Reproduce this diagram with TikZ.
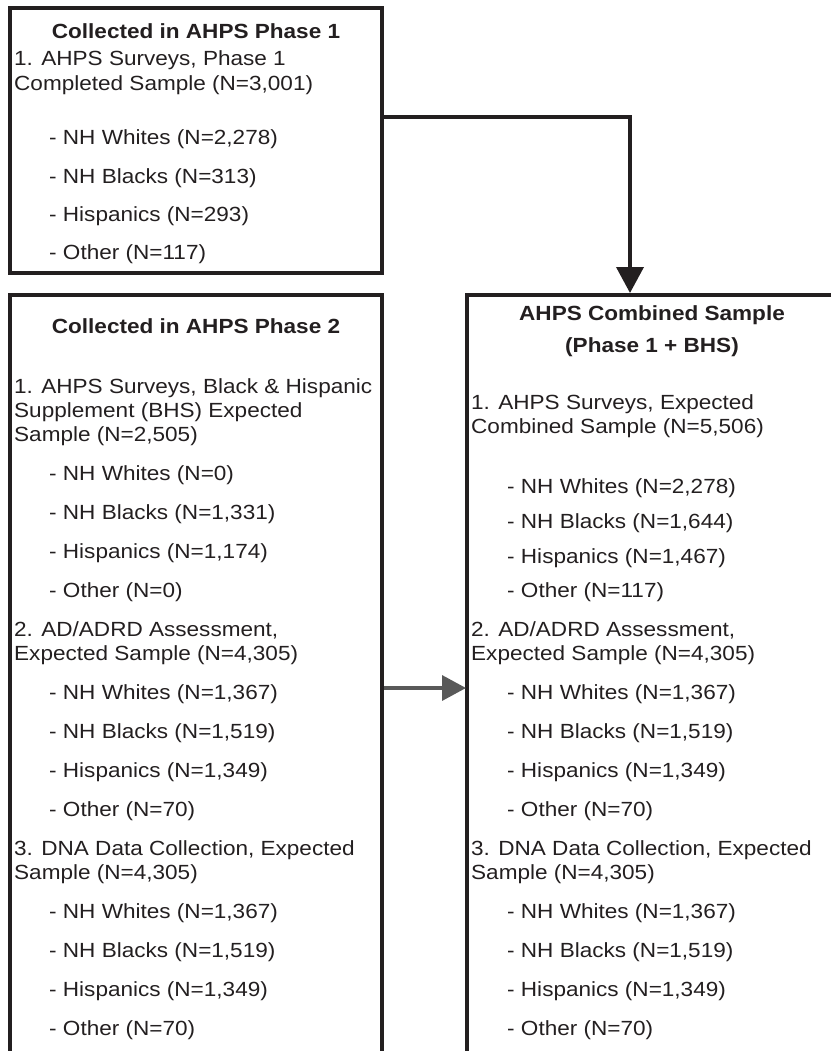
\documentclass[tikz,border=0pt]{standalone}
\usepackage{fontspec}
\setmainfont{Liberation Sans}[FakeStretch=1.1]
\usetikzlibrary{arrows.meta}
\definecolor{ink}{HTML}{231F20}
\definecolor{arrowgray}{HTML}{595959}

\begin{document}
\begin{tikzpicture}[x=1pt,y=-1pt,
    boxline/.style={draw=ink,line width=3.8pt},
    txt/.style={anchor=base west,inner sep=0pt,text=ink,font=\fontsize{20.5}{24}\selectfont},
    head/.style={anchor=base,inner sep=0pt,text=ink,font=\fontsize{20.5}{24}\selectfont\bfseries}]

  \useasboundingbox (0,0) rectangle (831,1051);

  % corners of the three boxes
  \coordinate (tl) at (10,8);
  \coordinate (br) at (382,273);
  \coordinate (lb1) at (10,1051);
  \coordinate (lb2) at (10,295);
  \coordinate (lb3) at (382,295);
  \coordinate (lb4) at (382,1051);
  \coordinate (rb1) at (831,295);
  \coordinate (rb2) at (467,295);
  \coordinate (rb3) at (467,1051);

  \draw[boxline] (tl) rectangle (br);
  \draw[boxline] (lb1) -- (lb2) -- (lb3) -- (lb4);
  \draw[boxline] (rb1) -- (rb2) -- (rb3);

  % arrow ends
  \coordinate (o1) at (382,117);
  \coordinate (i1) at (630,293);
  \coordinate (o2) at (384,688);
  \coordinate (i2) at (466,688);

  \draw[ink,line width=3.8pt,-{Triangle[width=27pt,length=26pt]}] (o1) -| (i1);
  \draw[arrowgray,line width=3.5pt,-{Triangle[width=25pt,length=24pt]}] (o2) -- (i2);

  \begin{scope}[every node/.style={txt}]
    % phase 1
    \node[head] (h1) at (196,39) {Collected in AHPS Phase 1};
    \node (t1) at (14,66)  {1. AHPS Surveys, Phase 1};
    \node (t2) at (14,91)  {Completed Sample (N=3,001)};
    \node (t3) at (49,145) {- NH Whites (N=2,278)};
    \node (t4) at (49,183) {- NH Blacks (N=313)};
    \node (t5) at (49,221) {- Hispanics (N=293)};
    \node (t6) at (49,259) {- Other (N=117)};

    % phase 2
    \node[head] (h2) at (196,333) {Collected in AHPS Phase 2};
    \node (l1)  at (14,393)  {1. AHPS Surveys, Black \& Hispanic};
    \node (l2)  at (14,417)  {Supplement (BHS) Expected};
    \node (l3)  at (14,441)  {Sample (N=2,505)};
    \node (l4)  at (49,480)  {- NH Whites (N=0)};
    \node (l5)  at (49,519)  {- NH Blacks (N=1,331)};
    \node (l6)  at (49,558)  {- Hispanics (N=1,174)};
    \node (l7)  at (49,597)  {- Other (N=0)};
    \node (l8)  at (14,636)  {2. AD/ADRD Assessment,};
    \node (l9)  at (14,660)  {Expected Sample (N=4,305)};
    \node (l10) at (49,699)  {- NH Whites (N=1,367)};
    \node (l11) at (49,738)  {- NH Blacks (N=1,519)};
    \node (l12) at (49,777)  {- Hispanics (N=1,349)};
    \node (l13) at (49,816)  {- Other (N=70)};
    \node (l14) at (14,855)  {3. DNA Data Collection, Expected};
    \node (l15) at (14,879)  {Sample (N=4,305)};
    \node (l16) at (49,918)  {- NH Whites (N=1,367)};
    \node (l17) at (49,957)  {- NH Blacks (N=1,519)};
    \node (l18) at (49,996)  {- Hispanics (N=1,349)};
    \node (l19) at (49,1035) {- Other (N=70)};

    % combined
    \node[head] (h3) at (652,320) {AHPS Combined Sample};
    \node[head] (h4) at (652,352) {(Phase 1 + BHS)};
    \node (r1)  at (471,409)  {1. AHPS Surveys, Expected};
    \node (r2)  at (471,433)  {Combined Sample (N=5,506)};
    \node (r3)  at (507,493)  {- NH Whites (N=2,278)};
    \node (r4)  at (507,528)  {- NH Blacks (N=1,644)};
    \node (r5)  at (507,563)  {- Hispanics (N=1,467)};
    \node (r6)  at (507,597)  {- Other (N=117)};
    \node (r7)  at (471,636)  {2. AD/ADRD Assessment,};
    \node (r8)  at (471,660)  {Expected Sample (N=4,305)};
    \node (r9)  at (507,699)  {- NH Whites (N=1,367)};
    \node (r10) at (507,738)  {- NH Blacks (N=1,519)};
    \node (r11) at (507,777)  {- Hispanics (N=1,349)};
    \node (r12) at (507,816)  {- Other (N=70)};
    \node (r13) at (471,855)  {3. DNA Data Collection, Expected};
    \node (r14) at (471,879)  {Sample (N=4,305)};
    \node (r15) at (507,918)  {- NH Whites (N=1,367)};
    \node (r16) at (507,957)  {- NH Blacks (N=1,519)};
    \node (r17) at (507,996)  {- Hispanics (N=1,349)};
    \node (r18) at (507,1035) {- Other (N=70)};
  \end{scope}

\end{tikzpicture}
\end{document}
